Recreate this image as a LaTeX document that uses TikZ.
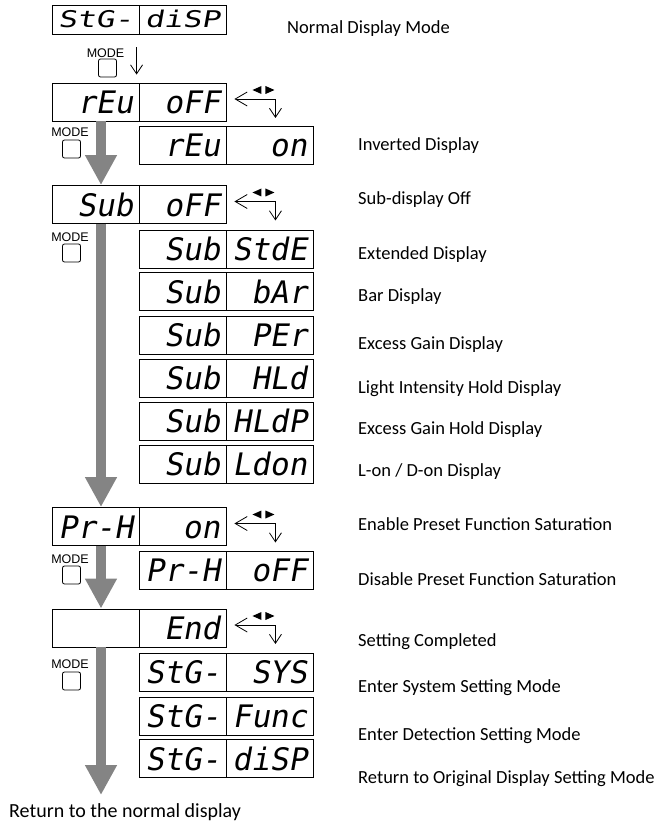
\documentclass[tikz,border=0pt]{standalone}
\usepackage{fontspec}
\setmainfont{Carlito}
\newfontfamily\segfont[FakeSlant=0.18]{DejaVu Sans Mono}
\newfontfamily\segwide[FakeSlant=0.18,FakeStretch=1.35]{DejaVu Sans Mono}
\newfontfamily\keyfont{Liberation Sans}
\usetikzlibrary{arrows.meta}
\definecolor{flowgray}{RGB}{132,132,132}

% left/right arrow sign next to a display
\newcommand{\swapsign}[1]{%
	\draw[swapflow] ([shift={(8,-3)}]#1.east) -| ([shift={(49,16)}]#1.east);
	\fill ([shift={(26,-12)}]#1.east) -- ++(9,-4) -- ++(0,8) -- cycle;
	\fill ([shift={(48,-12)}]#1.east) -- ++(-9,-4) -- ++(0,8) -- cycle;
}

\begin{document}
\begin{tikzpicture}[x=1pt,y=-1pt,
	cell/.style={draw, line width=0.9pt, minimum height=38pt, text width=75pt, inner xsep=6pt, inner ysep=0pt, align=right, font=\segfont\fontsize{31}{31}\selectfont, text height=23pt, text depth=0pt},
	cellsmall/.style={cell, minimum height=29pt, font=\segwide\fontsize{23}{23}\selectfont, text height=17pt},
	flow/.style={line width=10pt, draw=flowgray, -{Triangle[length=30pt,width=30pt]}},
	modeflow/.style={line width=0.8pt, -{Straight Barb[length=9pt,width=12pt]}},
	swapflow/.style={line width=0.8pt, {Straight Barb[length=12pt,width=14pt]}-{Straight Barb[length=9pt,width=12pt]}},
	key/.style={draw, line width=0.8pt, rounded corners=2pt, minimum size=18pt, inner sep=0pt},
	keytext/.style={font=\keyfont\fontsize{12.5}{12.5}\selectfont, inner sep=0pt},
	note/.style={anchor=west, font=\fontsize{18.5}{20}\selectfont, inner sep=0pt, text height=12pt, text depth=0pt}]
	\useasboundingbox (0,0) rectangle (660,826);
	% displays
	\node (stgA) at (95.5,19.5) [cellsmall] {StG-};
	\node (dispA) at (182.5,19.5) [cellsmall] {diSP};
	\node (revA) at (95.5,102) [cell] {rEu};
	\node (offA) at (182.5,102) [cell] {oFF};
	\node (revB) at (182.5,145) [cell] {rEu};
	\node (onB) at (269.5,145) [cell] {on};
	\node (subA) at (95.5,204.5) [cell] {Sub};
	\node (offSub) at (182.5,204.5) [cell] {oFF};
	\node (subB) at (182.5,249) [cell] {Sub};
	\node (stde) at (269.5,249) [cell] {StdE};
	\node (subC) at (182.5,291.5) [cell] {Sub};
	\node (bar) at (269.5,291.5) [cell] {bAr};
	\node (subD) at (182.5,335) [cell] {Sub};
	\node (per) at (269.5,335) [cell] {PEr};
	\node (subE) at (182.5,378) [cell] {Sub};
	\node (hld) at (269.5,378) [cell] {HLd};
	\node (subF) at (182.5,421) [cell] {Sub};
	\node (hldp) at (269.5,421) [cell] {HLdP};
	\node (subG) at (182.5,464) [cell] {Sub};
	\node (ldon) at (269.5,464) [cell] {Ldon};
	\node (prhA) at (95.5,526.5) [cell] {Pr-H};
	\node (onPrh) at (182.5,526.5) [cell] {on};
	\node (prhB) at (182.5,570) [cell] {Pr-H};
	\node (offPrh) at (269.5,570) [cell] {oFF};
	\node (blank) at (95.5,628) [cell] {};
	\node (endA) at (182.5,628) [cell] {End};
	\node (stgB) at (182.5,672) [cell] {StG-};
	\node (sys) at (269.5,672) [cell] {SYS};
	\node (stgC) at (182.5,716) [cell] {StG-};
	\node (func) at (269.5,716) [cell] {Func};
	\node (stgD) at (182.5,758.5) [cell] {StG-};
	\node (dispD) at (269.5,758.5) [cell] {diSP};
	% MODE keys
	\node (keyA) at (107.5,68) [key] {};
	\node (keyAt) at (105.5,53) [keytext] {MODE};
	\node (keyB) at (71.5,149) [key] {};
	\node (keyBt) at (70,132) [keytext] {MODE};
	\node (keyC) at (71.5,253) [key] {};
	\node (keyCt) at (70,237) [keytext] {MODE};
	\node (keyD) at (71.5,575) [key] {};
	\node (keyDt) at (70,559) [keytext] {MODE};
	\node (keyE) at (71.5,681) [key] {};
	\node (keyEt) at (70,664) [keytext] {MODE};
	% flow
	\draw[modeflow] ([shift={(-2,13)}]dispA.south west) -- ([shift={(-2,-8)}]offA.north west);
	\draw[flow] ([xshift=5.5pt]revA.south) -- ([xshift=5.5pt]subA.north);
	\draw[flow] ([xshift=5.5pt]subA.south) -- ([xshift=5.5pt]prhA.north);
	\draw[flow] ([xshift=5.5pt]prhA.south) -- ([xshift=5.5pt]blank.north);
	\coordinate (back) at (101,795);
	\draw[flow] ([xshift=5.5pt]blank.south) -- (back);
	\swapsign{offA}
	\swapsign{offSub}
	\swapsign{onPrh}
	\swapsign{endA}
	% notes
	\node (nNormal) at (287,27.5) [note] {Normal Display Mode};
	\node (nInv) at (358,145) [note] {Inverted Display};
	\node (nSubOff) at (358,199) [note] {Sub-display Off};
	\node (nExt) at (358,253) [note] {Extended Display};
	\node (nBar) at (358,295) [note] {Bar Display};
	\node (nGain) at (358,343) [note] {Excess Gain Display};
	\node (nHold) at (358,387) [note] {Light Intensity Hold Display};
	\node (nGainHold) at (358,428) [note] {Excess Gain Hold Display};
	\node (nLon) at (358,470) [note] {L-on / D-on Display};
	\node (nEnable) at (358,524) [note] {Enable Preset Function Saturation};
	\node (nDisable) at (358,579) [note] {Disable Preset Function Saturation};
	\node (nDone) at (358,640) [note] {Setting Completed};
	\node (nSys) at (358,686) [note] {Enter System Setting Mode};
	\node (nDet) at (358,734) [note] {Enter Detection Setting Mode};
	\node (nOrig) at (358,777) [note] {Return to Original Display Setting Mode};
	\node (ret) at (9,811) [note, font=\fontsize{20}{22}\selectfont] {Return to the normal display};
\end{tikzpicture}
\end{document}
